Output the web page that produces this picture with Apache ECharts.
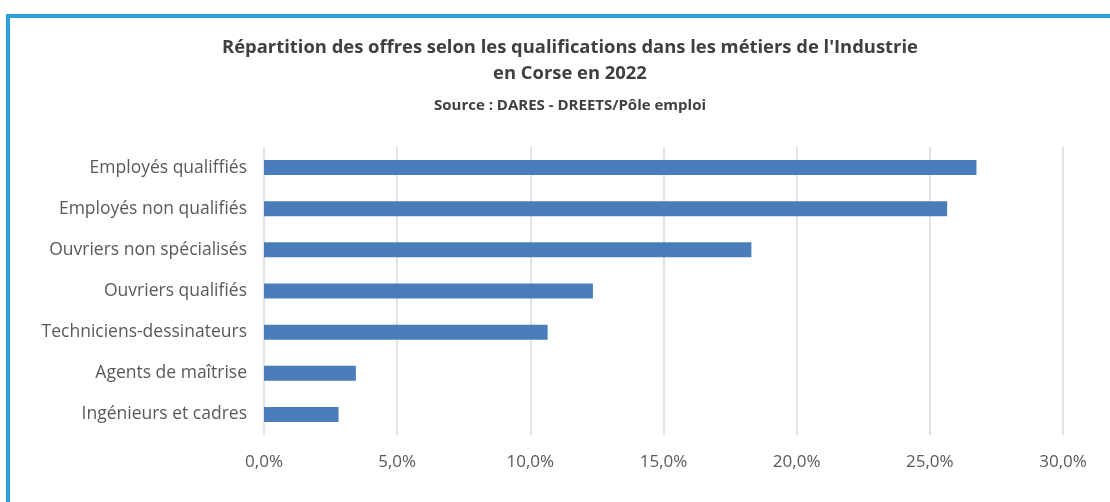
<!DOCTYPE html>
<html>
<head>
<meta charset="utf-8">
<script src="https://cdn.jsdelivr.net/npm/echarts@6/dist/echarts.min.js"></script>
<style>
html,body{margin:0;padding:0;background:#fff;}
#c{width:1110px;height:502px;}
</style>
</head>
<body>
<div id="c"></div>
<script>
const categories = ["Employés qualiffiés","Employés non qualifiés","Ouvriers non spécialisés","Ouvriers qualifiés","Techniciens-dessinateurs","Agents de maîtrise","Ingénieurs et cadres"];
const values = [26.75, 25.65, 18.3, 12.35, 10.65, 3.45, 2.8];
const titleText = "Répartition des offres selon les qualifications dans les métiers de l'Industrie";
const titleText2 = "en Corse en 2022";
const sourceText = "Source : DARES - DREETS/Pôle emploi";

const chart = echarts.init(document.getElementById('c'), null, {renderer:'canvas'});
chart.setOption({
  animation:false,
  backgroundColor:'#fff',
  graphic:[
    {type:'rect', shape:{x:6,y:14,width:4,height:488}, style:{fill:'#2c9fd8'}},
    {type:'rect', shape:{x:6,y:14,width:1104,height:4}, style:{fill:'#2c9fd8'}}
  ],
  title:[
    {text:titleText, left:565, top:34, textAlign:'center',
     textStyle:{fontFamily:'Open Sans', fontWeight:'bold', fontSize:18.4, color:'#404040'}},
    {text:titleText2, left:565, top:60, textAlign:'center',
     textStyle:{fontFamily:'Open Sans', fontWeight:'bold', fontSize:18.4, color:'#404040'}},
    {text:sourceText, left:565, top:93, textAlign:'center',
     textStyle:{fontFamily:'Open Sans', fontWeight:'bold', fontSize:15, color:'#404040'}}
  ],
  grid:{left:264, right:47, top:147, bottom:67, containLabel:false},
  xAxis:{
    type:'value', min:0, max:30, interval:5,
    axisLine:{show:false}, axisTick:{show:false},
    splitLine:{show:true, lineStyle:{color:'#d9d9d9', width:1.5}},
    axisLabel:{margin:19, fontFamily:'Open Sans', fontSize:17, color:'#595959',
      formatter:v=>v.toFixed(1).replace('.',',')+'%'}
  },
  yAxis:{
    type:'category', data:categories, inverse:true,
    axisLine:{show:false}, axisTick:{show:false},
    axisLabel:{margin:17, fontFamily:'Open Sans', fontSize:17.5, color:'#595959'}
  },
  series:[{
    type:'bar', data:values, barWidth:15,
    itemStyle:{color:'#4a7ebb'}
  }]
});
</script>
</body>
</html>
